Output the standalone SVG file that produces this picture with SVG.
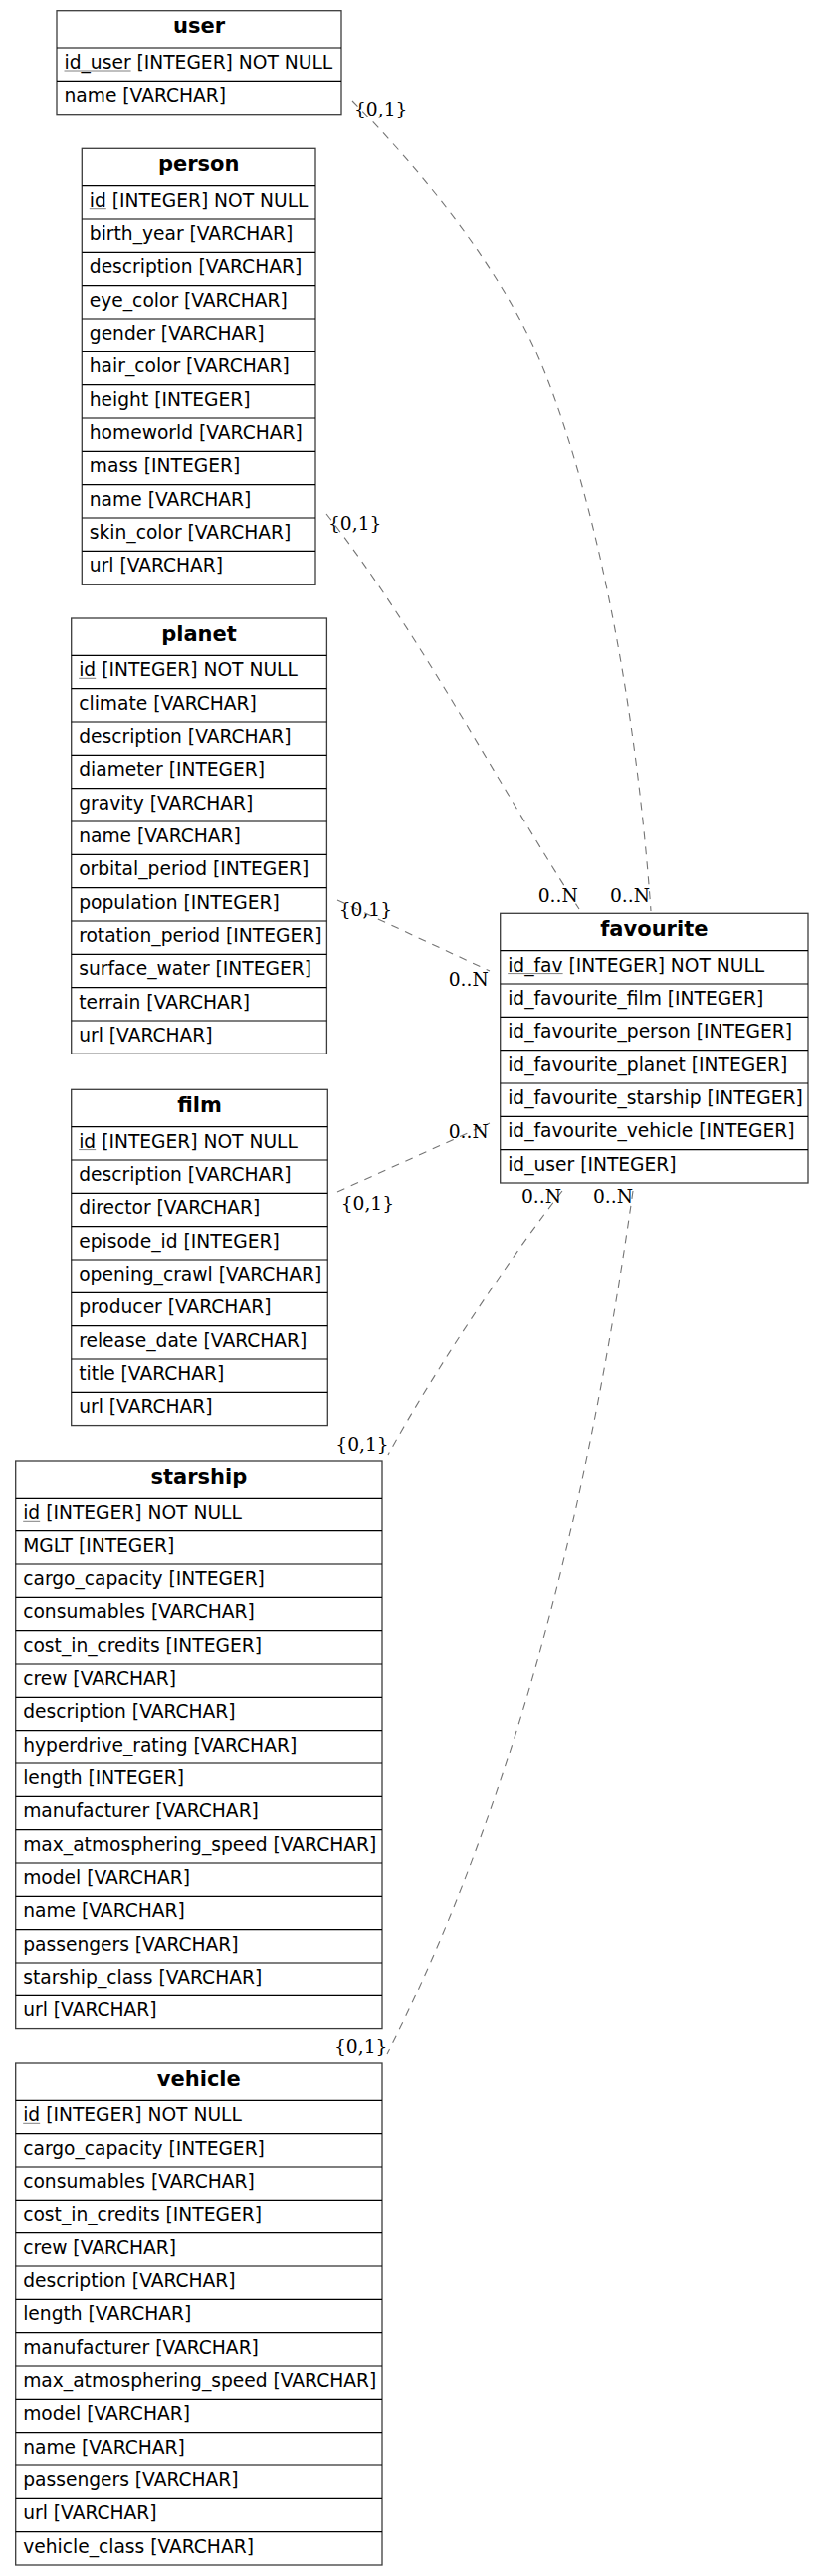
<svg xmlns="http://www.w3.org/2000/svg" width="828" height="2587" viewBox="0 0 828 2587">
<style>
.box{fill:none;stroke:#3c3c3c;stroke-width:1.3}
.sep{stroke:#000;stroke-width:1.2}
.hd{font-family:"DejaVu Sans",sans-serif;font-weight:bold;font-size:21px;text-anchor:middle;fill:#000}
.f{font-family:"DejaVu Sans",sans-serif;font-size:18.67px;fill:#000}
.pk{stroke:#808080;stroke-width:1}
.e{fill:none;stroke:#747474;stroke-width:1.1;stroke-dasharray:8,7}
.l{font-family:"DejaVu Serif",serif;font-size:18.67px;fill:#000}
</style>
<rect width="828" height="2587" fill="#fff"/>

<g id="connectors">
<path class="e" d="M354,101 C424,172 506,271 547,373 C602.5,512.5 640,717 654,915"/>
<path class="e" d="M328,516 C421,634.5 499.5,786.5 582,913"/>
<path class="e" d="M339,904 L492,975"/>
<path class="e" d="M339,1197 L492,1128"/>
<path class="e" d="M565,1196 C522,1250 440,1370 390,1461"/>
<path class="e" d="M636,1196 C594,1493 524,1796 389,2063"/>
<text class="l" x="356" y="116">{0,1}</text>
<text class="l" x="613" y="906">0..N</text>
<text class="l" x="330" y="532">{0,1}</text>
<text class="l" x="540.7" y="905.5">0..N</text>
<text class="l" x="340.7" y="920">{0,1}</text>
<text class="l" x="450.7" y="990">0..N</text>
<text class="l" x="450.7" y="1143">0..N</text>
<text class="l" x="342.7" y="1215">{0,1}</text>
<text class="l" x="524" y="1208">0..N</text>
<text class="l" x="596" y="1208">0..N</text>
<text class="l" x="337.3" y="1457">{0,1}</text>
<text class="l" x="336" y="2062">{0,1}</text>
</g>

<g id="user">
<rect class="box" x="57" y="10.7" width="286" height="104"/>
<line class="sep" x1="57" y1="48" x2="343" y2="48"/>
<line class="sep" x1="57" y1="81.3" x2="343" y2="81.3"/>
<text class="hd" x="200" y="33.4">user</text>
<text class="f" x="64.5" y="69">id_user [INTEGER] NOT NULL</text>
<line class="pk" x1="64.5" y1="71" x2="131.6" y2="71"/>
<text class="f" x="64.5" y="102.3">name [VARCHAR]</text>
</g>

<g id="person">
<rect class="box" x="82.3" y="149.3" width="234.7" height="437.4"/>
<g class="sep">
<line x1="82.3" y1="186.7" x2="317" y2="186.7"/><line x1="82.3" y1="220" x2="317" y2="220"/><line x1="82.3" y1="253.3" x2="317" y2="253.3"/><line x1="82.3" y1="286.7" x2="317" y2="286.7"/><line x1="82.3" y1="320" x2="317" y2="320"/><line x1="82.3" y1="353.3" x2="317" y2="353.3"/><line x1="82.3" y1="386.7" x2="317" y2="386.7"/><line x1="82.3" y1="420" x2="317" y2="420"/><line x1="82.3" y1="453.3" x2="317" y2="453.3"/><line x1="82.3" y1="486.7" x2="317" y2="486.7"/><line x1="82.3" y1="520" x2="317" y2="520"/><line x1="82.3" y1="553.3" x2="317" y2="553.3"/>
</g>
<text class="hd" x="199.7" y="172">person</text>
<text class="f" x="89.8" y="207.7">id [INTEGER] NOT NULL</text>
<line class="pk" x1="89.8" y1="209.7" x2="106.8" y2="209.7"/>
<text class="f" x="89.8" y="241">birth_year [VARCHAR]</text>
<text class="f" x="89.8" y="274.3">description [VARCHAR]</text>
<text class="f" x="89.8" y="307.7">eye_color [VARCHAR]</text>
<text class="f" x="89.8" y="341">gender [VARCHAR]</text>
<text class="f" x="89.8" y="374.3">hair_color [VARCHAR]</text>
<text class="f" x="89.8" y="407.7">height [INTEGER]</text>
<text class="f" x="89.8" y="441">homeworld [VARCHAR]</text>
<text class="f" x="89.8" y="474.3">mass [INTEGER]</text>
<text class="f" x="89.8" y="507.7">name [VARCHAR]</text>
<text class="f" x="89.8" y="541">skin_color [VARCHAR]</text>
<text class="f" x="89.8" y="574.3">url [VARCHAR]</text>
</g>

<g id="planet">
<rect class="box" x="71.7" y="621" width="256.7" height="437.3"/>
<g class="sep">
<line x1="71.7" y1="658.3" x2="328.4" y2="658.3"/><line x1="71.7" y1="691.7" x2="328.4" y2="691.7"/><line x1="71.7" y1="725" x2="328.4" y2="725"/><line x1="71.7" y1="758.3" x2="328.4" y2="758.3"/><line x1="71.7" y1="791.7" x2="328.4" y2="791.7"/><line x1="71.7" y1="825" x2="328.4" y2="825"/><line x1="71.7" y1="858.3" x2="328.4" y2="858.3"/><line x1="71.7" y1="891.7" x2="328.4" y2="891.7"/><line x1="71.7" y1="925" x2="328.4" y2="925"/><line x1="71.7" y1="958.3" x2="328.4" y2="958.3"/><line x1="71.7" y1="991.7" x2="328.4" y2="991.7"/><line x1="71.7" y1="1025" x2="328.4" y2="1025"/>
</g>
<text class="hd" x="200" y="643.7">planet</text>
<text class="f" x="79.2" y="679.3">id [INTEGER] NOT NULL</text>
<line class="pk" x1="79.2" y1="681.3" x2="96.2" y2="681.3"/>
<text class="f" x="79.2" y="712.7">climate [VARCHAR]</text>
<text class="f" x="79.2" y="746">description [VARCHAR]</text>
<text class="f" x="79.2" y="779.3">diameter [INTEGER]</text>
<text class="f" x="79.2" y="812.7">gravity [VARCHAR]</text>
<text class="f" x="79.2" y="846">name [VARCHAR]</text>
<text class="f" x="79.2" y="879.3">orbital_period [INTEGER]</text>
<text class="f" x="79.2" y="912.7">population [INTEGER]</text>
<text class="f" x="79.2" y="946">rotation_period [INTEGER]</text>
<text class="f" x="79.2" y="979.3">surface_water [INTEGER]</text>
<text class="f" x="79.2" y="1012.7">terrain [VARCHAR]</text>
<text class="f" x="79.2" y="1046">url [VARCHAR]</text>
</g>

<g id="film">
<rect class="box" x="71.7" y="1094.3" width="257.6" height="337.3"/>
<g class="sep">
<line x1="71.7" y1="1131.6" x2="329.3" y2="1131.6"/><line x1="71.7" y1="1165" x2="329.3" y2="1165"/><line x1="71.7" y1="1198.3" x2="329.3" y2="1198.3"/><line x1="71.7" y1="1231.6" x2="329.3" y2="1231.6"/><line x1="71.7" y1="1265" x2="329.3" y2="1265"/><line x1="71.7" y1="1298.3" x2="329.3" y2="1298.3"/><line x1="71.7" y1="1331.6" x2="329.3" y2="1331.6"/><line x1="71.7" y1="1365" x2="329.3" y2="1365"/><line x1="71.7" y1="1398.3" x2="329.3" y2="1398.3"/>
</g>
<text class="hd" x="200.5" y="1117">film</text>
<text class="f" x="79.2" y="1152.6">id [INTEGER] NOT NULL</text>
<line class="pk" x1="79.2" y1="1154.6" x2="96.2" y2="1154.6"/>
<text class="f" x="79.2" y="1186">description [VARCHAR]</text>
<text class="f" x="79.2" y="1219.3">director [VARCHAR]</text>
<text class="f" x="79.2" y="1252.6">episode_id [INTEGER]</text>
<text class="f" x="79.2" y="1286">opening_crawl [VARCHAR]</text>
<text class="f" x="79.2" y="1319.3">producer [VARCHAR]</text>
<text class="f" x="79.2" y="1352.6">release_date [VARCHAR]</text>
<text class="f" x="79.2" y="1386">title [VARCHAR]</text>
<text class="f" x="79.2" y="1419.3">url [VARCHAR]</text>
</g>

<g id="starship">
<rect class="box" x="15.7" y="1467" width="368.3" height="570.6"/>
<g class="sep">
<line x1="15.7" y1="1504.3" x2="384" y2="1504.3"/><line x1="15.7" y1="1537.6" x2="384" y2="1537.6"/><line x1="15.7" y1="1571" x2="384" y2="1571"/><line x1="15.7" y1="1604.3" x2="384" y2="1604.3"/><line x1="15.7" y1="1637.6" x2="384" y2="1637.6"/><line x1="15.7" y1="1671" x2="384" y2="1671"/><line x1="15.7" y1="1704.3" x2="384" y2="1704.3"/><line x1="15.7" y1="1737.6" x2="384" y2="1737.6"/><line x1="15.7" y1="1771" x2="384" y2="1771"/><line x1="15.7" y1="1804.3" x2="384" y2="1804.3"/><line x1="15.7" y1="1837.6" x2="384" y2="1837.6"/><line x1="15.7" y1="1871" x2="384" y2="1871"/><line x1="15.7" y1="1904.3" x2="384" y2="1904.3"/><line x1="15.7" y1="1937.6" x2="384" y2="1937.6"/><line x1="15.7" y1="1971" x2="384" y2="1971"/><line x1="15.7" y1="2004.3" x2="384" y2="2004.3"/>
</g>
<text class="hd" x="199.85" y="1489.7">starship</text>
<text class="f" x="23.2" y="1525.3">id [INTEGER] NOT NULL</text>
<line class="pk" x1="23.2" y1="1527.3" x2="40.2" y2="1527.3"/>
<text class="f" x="23.2" y="1558.6">MGLT [INTEGER]</text>
<text class="f" x="23.2" y="1592">cargo_capacity [INTEGER]</text>
<text class="f" x="23.2" y="1625.3">consumables [VARCHAR]</text>
<text class="f" x="23.2" y="1658.6">cost_in_credits [INTEGER]</text>
<text class="f" x="23.2" y="1692">crew [VARCHAR]</text>
<text class="f" x="23.2" y="1725.3">description [VARCHAR]</text>
<text class="f" x="23.2" y="1758.6">hyperdrive_rating [VARCHAR]</text>
<text class="f" x="23.2" y="1792">length [INTEGER]</text>
<text class="f" x="23.2" y="1825.3">manufacturer [VARCHAR]</text>
<text class="f" x="23.2" y="1858.6">max_atmosphering_speed [VARCHAR]</text>
<text class="f" x="23.2" y="1892">model [VARCHAR]</text>
<text class="f" x="23.2" y="1925.3">name [VARCHAR]</text>
<text class="f" x="23.2" y="1958.6">passengers [VARCHAR]</text>
<text class="f" x="23.2" y="1992">starship_class [VARCHAR]</text>
<text class="f" x="23.2" y="2025.3">url [VARCHAR]</text>
</g>

<g id="vehicle">
<rect class="box" x="15.7" y="2072" width="368.3" height="504"/>
<g class="sep">
<line x1="15.7" y1="2109.3" x2="384" y2="2109.3"/><line x1="15.7" y1="2142.6" x2="384" y2="2142.6"/><line x1="15.7" y1="2176" x2="384" y2="2176"/><line x1="15.7" y1="2209.3" x2="384" y2="2209.3"/><line x1="15.7" y1="2242.6" x2="384" y2="2242.6"/><line x1="15.7" y1="2276" x2="384" y2="2276"/><line x1="15.7" y1="2309.3" x2="384" y2="2309.3"/><line x1="15.7" y1="2342.6" x2="384" y2="2342.6"/><line x1="15.7" y1="2376" x2="384" y2="2376"/><line x1="15.7" y1="2409.3" x2="384" y2="2409.3"/><line x1="15.7" y1="2442.6" x2="384" y2="2442.6"/><line x1="15.7" y1="2476" x2="384" y2="2476"/><line x1="15.7" y1="2509.3" x2="384" y2="2509.3"/><line x1="15.7" y1="2542.6" x2="384" y2="2542.6"/>
</g>
<text class="hd" x="199.85" y="2094.7">vehicle</text>
<text class="f" x="23.2" y="2130.3">id [INTEGER] NOT NULL</text>
<line class="pk" x1="23.2" y1="2132.3" x2="40.2" y2="2132.3"/>
<text class="f" x="23.2" y="2163.6">cargo_capacity [INTEGER]</text>
<text class="f" x="23.2" y="2197">consumables [VARCHAR]</text>
<text class="f" x="23.2" y="2230.3">cost_in_credits [INTEGER]</text>
<text class="f" x="23.2" y="2263.6">crew [VARCHAR]</text>
<text class="f" x="23.2" y="2297">description [VARCHAR]</text>
<text class="f" x="23.2" y="2330.3">length [VARCHAR]</text>
<text class="f" x="23.2" y="2363.6">manufacturer [VARCHAR]</text>
<text class="f" x="23.2" y="2397">max_atmosphering_speed [VARCHAR]</text>
<text class="f" x="23.2" y="2430.3">model [VARCHAR]</text>
<text class="f" x="23.2" y="2463.6">name [VARCHAR]</text>
<text class="f" x="23.2" y="2497">passengers [VARCHAR]</text>
<text class="f" x="23.2" y="2530.3">url [VARCHAR]</text>
<text class="f" x="23.2" y="2563.6">vehicle_class [VARCHAR]</text>
</g>

<g id="favourite">
<rect class="box" x="502.7" y="917.3" width="309.3" height="270.7"/>
<g class="sep">
<line x1="502.7" y1="954.6" x2="812" y2="954.6"/><line x1="502.7" y1="988" x2="812" y2="988"/><line x1="502.7" y1="1021.3" x2="812" y2="1021.3"/><line x1="502.7" y1="1054.6" x2="812" y2="1054.6"/><line x1="502.7" y1="1088" x2="812" y2="1088"/><line x1="502.7" y1="1121.3" x2="812" y2="1121.3"/><line x1="502.7" y1="1154.6" x2="812" y2="1154.6"/>
</g>
<text class="hd" x="657.35" y="940">favourite</text>
<text class="f" x="510.2" y="975.6">id_fav [INTEGER] NOT NULL</text>
<line class="pk" x1="510.2" y1="977.6" x2="565.6" y2="977.6"/>
<text class="f" x="510.2" y="1009">id_favourite_film [INTEGER]</text>
<text class="f" x="510.2" y="1042.3">id_favourite_person [INTEGER]</text>
<text class="f" x="510.2" y="1075.6">id_favourite_planet [INTEGER]</text>
<text class="f" x="510.2" y="1109">id_favourite_starship [INTEGER]</text>
<text class="f" x="510.2" y="1142.3">id_favourite_vehicle [INTEGER]</text>
<text class="f" x="510.2" y="1175.6">id_user [INTEGER]</text>
</g>
</svg>
